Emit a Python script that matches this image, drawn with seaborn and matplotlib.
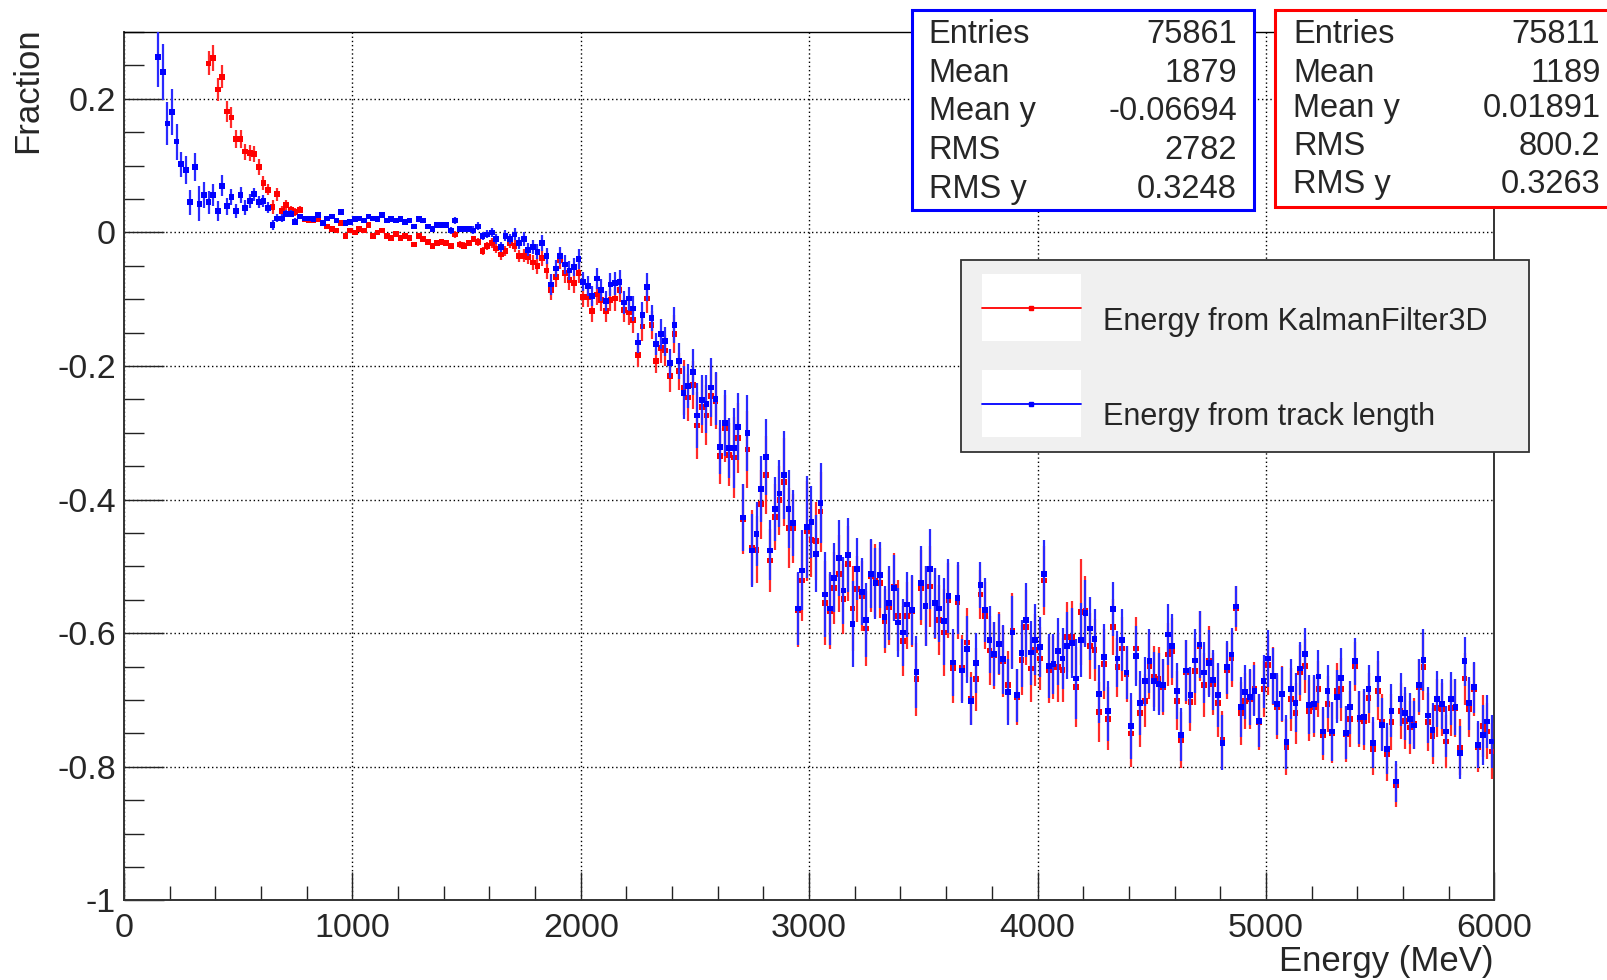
import numpy as np
import pandas as pd
import matplotlib
matplotlib.use("Agg")
import matplotlib.pyplot as plt
import seaborn as sns
from matplotlib.patches import Rectangle
from matplotlib.lines import Line2D

sns.set_style("white")
plt.rcParams["font.family"] = ["Liberation Sans", "DejaVu Sans"]
plt.rcParams["axes.unicode_minus"] = False

# ---------------- data ----------------
bin_width = 20
blue_first_center = 150   # MeV
red_first_center = 370    # MeV

blue_y = [
    0.263, 0.240, 0.163,
    0.180, 0.136, 0.102, 0.093, 0.045, 0.098, 0.043, 0.056, 0.045, 0.056,
    0.032, 0.070, 0.039, 0.053, 0.032, 0.056, 0.037, 0.047, 0.057, 0.045,
    0.047, 0.037, 0.011, 0.021, 0.021, 0.028, 0.028, 0.016, 0.024, 0.021,
    0.021, 0.020, 0.026, 0.014, 0.021, 0.024, 0.018, 0.030, 0.014, 0.016,
    0.020, 0.021, 0.018, 0.024, 0.021, 0.020, 0.026, 0.018, 0.020, 0.018,
    0.020, 0.016, 0.018, 0.009, 0.020, 0.018, 0.009, 0.005, 0.011, 0.011,
    0.011, 0.003, 0.018, 0.005, 0.005, 0.005, 0.003, 0.009, -0.005, -0.003,
    0.000, -0.010, -0.022, -0.005, -0.010, -0.003, -0.016, -0.010, -0.026, -0.022,
    -0.029, -0.016, -0.035, -0.078, -0.054, -0.035, -0.048, -0.057, -0.052, -0.040,
    -0.074, -0.080, -0.095, -0.069, -0.086, -0.103, -0.078, -0.076, -0.074, -0.105,
    -0.099, -0.114, -0.165, -0.124, -0.082, -0.128, -0.167, -0.152, -0.163, -0.196,
    -0.139, -0.192, -0.240, -0.230, -0.209, -0.274, -0.251, -0.257, -0.232, -0.249,
    -0.321, -0.285, -0.323, -0.323, -0.291, -0.427, -0.300, -0.476, -0.452, -0.384,
    -0.336, -0.476, -0.414, -0.391, -0.363, -0.414, -0.435, -0.563, -0.506, -0.441,
    -0.433, -0.481, -0.405, -0.542, -0.563, -0.517, -0.487, -0.536, -0.483, -0.586,
    -0.504, -0.538, -0.580, -0.511, -0.525, -0.513, -0.576, -0.555, -0.532, -0.584,
    -0.599, -0.557, -0.565, -0.658, -0.525, -0.559, -0.504, -0.555, -0.563, -0.582,
    -0.544, -0.644, -0.547, -0.656, -0.624, -0.702, -0.645, -0.528, -0.565, -0.610,
    -0.631, -0.616, -0.639, -0.688, -0.599, -0.693, -0.630, -0.580, -0.629, -0.610,
    -0.621, -0.511, -0.649, -0.646, -0.627, -0.638, -0.619, -0.615, -0.668, -0.610,
    -0.570, -0.593, -0.609, -0.691, -0.636, -0.716, -0.564, -0.638, -0.610, -0.659,
    -0.739, -0.634, -0.705, -0.672, -0.642, -0.672, -0.676, -0.678, -0.602, -0.619,
    -0.687, -0.752, -0.656, -0.693, -0.641, -0.617, -0.659, -0.645, -0.670, -0.693,
    -0.764, -0.651, -0.632, -0.560, -0.711, -0.688, -0.695, -0.686, -0.731, -0.672,
    -0.638, -0.664, -0.706, -0.691, -0.763, -0.683, -0.704, -0.653, -0.631, -0.707,
    -0.706, -0.665, -0.747, -0.687, -0.747, -0.695, -0.667, -0.749, -0.711, -0.642,
    -0.726, -0.725, -0.684, -0.764, -0.669, -0.737, -0.773, -0.716, -0.822, -0.699,
    -0.720, -0.728, -0.738, -0.678, -0.640, -0.723, -0.745, -0.699, -0.706, -0.747,
    -0.698, -0.710, -0.779, -0.642, -0.705, -0.681, -0.767, -0.752, -0.732, -0.762,
]

blue_err = [
    0.046, 0.042, 0.032,
    0.034, 0.027, 0.019, 0.021, 0.019, 0.021, 0.026, 0.019, 0.017, 0.017,
    0.015, 0.016, 0.013, 0.012, 0.011, 0.012, 0.011, 0.010, 0.010, 0.009,
    0.009, 0.008, 0.007, 0.006, 0.006, 0.005, 0.005, 0.005, 0.004, 0.004,
    0.004, 0.004, 0.003, 0.004, 0.003, 0.003, 0.004, 0.003, 0.003, 0.003,
    0.003, 0.003, 0.003, 0.003, 0.003, 0.003, 0.003, 0.003, 0.003, 0.003,
    0.003, 0.003, 0.004, 0.003, 0.003, 0.004, 0.004, 0.004, 0.004, 0.004,
    0.004, 0.005, 0.005, 0.005, 0.005, 0.005, 0.006, 0.006, 0.006, 0.006,
    0.007, 0.007, 0.008, 0.008, 0.008, 0.009, 0.009, 0.010, 0.010, 0.011,
    0.011, 0.012, 0.012, 0.015, 0.013, 0.013, 0.014, 0.014, 0.014, 0.015,
    0.014, 0.015, 0.015, 0.016, 0.016, 0.015, 0.017, 0.017, 0.018, 0.017,
    0.018, 0.019, 0.015, 0.020, 0.021, 0.020, 0.017, 0.022, 0.022, 0.022,
    0.027, 0.027, 0.040, 0.033, 0.035, 0.049, 0.038, 0.044, 0.044, 0.040,
    0.040, 0.049, 0.045, 0.060, 0.050, 0.050, 0.057, 0.055, 0.048, 0.050,
    0.057, 0.045, 0.048, 0.050, 0.066, 0.058, 0.050, 0.054, 0.060, 0.076,
    0.054, 0.058, 0.060, 0.063, 0.055, 0.052, 0.057, 0.050, 0.055, 0.064,
    0.047, 0.050, 0.055, 0.052, 0.053, 0.050, 0.046, 0.055, 0.049, 0.052,
    0.050, 0.048, 0.052, 0.054, 0.055, 0.060, 0.060, 0.052, 0.050, 0.065,
    0.055, 0.050, 0.054, 0.048, 0.050, 0.036, 0.045, 0.034, 0.048, 0.050,
    0.048, 0.045, 0.052, 0.050, 0.055, 0.040, 0.050, 0.055, 0.048, 0.053,
    0.045, 0.050, 0.048, 0.045, 0.050, 0.046, 0.050, 0.052, 0.060, 0.055,
    0.050, 0.047, 0.045, 0.043, 0.050, 0.045, 0.040, 0.042, 0.046, 0.040,
    0.049, 0.045, 0.048, 0.037, 0.048, 0.044, 0.046, 0.040, 0.045, 0.048,
    0.042, 0.040, 0.046, 0.042, 0.048, 0.050, 0.046, 0.050, 0.045, 0.048,
    0.041, 0.040, 0.040, 0.031, 0.045, 0.040, 0.042, 0.038, 0.040, 0.040,
    0.043, 0.042, 0.046, 0.040, 0.040, 0.045, 0.044, 0.040, 0.039, 0.044,
    0.043, 0.040, 0.036, 0.040, 0.044, 0.040, 0.045, 0.040, 0.040, 0.035,
    0.040, 0.042, 0.036, 0.038, 0.042, 0.040, 0.038, 0.040, 0.030, 0.040,
    0.040, 0.038, 0.036, 0.040, 0.047, 0.042, 0.040, 0.042, 0.038, 0.038,
    0.040, 0.042, 0.040, 0.037, 0.040, 0.038, 0.035, 0.045, 0.040, 0.040,
]

red_y = [
    0.253, 0.261,
    0.214, 0.233, 0.181, 0.172, 0.140, 0.140, 0.121, 0.119, 0.117, 0.098,
    0.074, 0.064, 0.038, 0.057, 0.032, 0.041, 0.034, 0.030, 0.034, 0.020,
    0.018, 0.018, 0.020, 0.014, 0.009, 0.005, 0.003, 0.014, -0.005, 0.003,
    0.000, 0.005, 0.003, 0.011, -0.005, 0.000, 0.003, -0.005, -0.008, -0.002,
    -0.008, -0.005, -0.008, -0.018, -0.005, -0.010, -0.014, -0.020, -0.016, -0.014,
    -0.016, -0.020, -0.003, -0.018, -0.020, -0.016, -0.010, -0.014, -0.028, -0.020,
    -0.016, -0.024, -0.033, -0.028, -0.016, -0.020, -0.035, -0.035, -0.037, -0.045,
    -0.050, -0.038, -0.057, -0.086, -0.067, -0.042, -0.061, -0.071, -0.076, -0.061,
    -0.097, -0.097, -0.118, -0.093, -0.101, -0.118, -0.101, -0.099, -0.086, -0.116,
    -0.120, -0.131, -0.184, -0.141, -0.099, -0.139, -0.192, -0.173, -0.177, -0.215,
    -0.152, -0.208, -0.232, -0.247, -0.228, -0.289, -0.261, -0.274, -0.245, -0.253,
    -0.335, -0.293, -0.333, -0.337, -0.308, -0.429, -0.325, -0.472, -0.475, -0.407,
    -0.363, -0.491, -0.426, -0.401, -0.374, -0.443, -0.443, -0.565, -0.521, -0.447,
    -0.460, -0.462, -0.418, -0.555, -0.567, -0.532, -0.511, -0.549, -0.496, -0.563,
    -0.534, -0.544, -0.593, -0.515, -0.521, -0.525, -0.582, -0.561, -0.530, -0.574,
    -0.612, -0.574, -0.567, -0.669, -0.532, -0.559, -0.530, -0.555, -0.580, -0.599,
    -0.551, -0.652, -0.553, -0.652, -0.614, -0.698, -0.669, -0.542, -0.574, -0.626,
    -0.633, -0.616, -0.642, -0.678, -0.596, -0.695, -0.640, -0.591, -0.653, -0.625,
    -0.638, -0.521, -0.655, -0.651, -0.651, -0.655, -0.606, -0.606, -0.680, -0.568,
    -0.566, -0.619, -0.625, -0.718, -0.646, -0.728, -0.591, -0.651, -0.623, -0.661,
    -0.750, -0.623, -0.720, -0.701, -0.649, -0.665, -0.668, -0.680, -0.632, -0.627,
    -0.701, -0.760, -0.658, -0.703, -0.657, -0.619, -0.678, -0.641, -0.676, -0.705,
    -0.760, -0.656, -0.638, -0.563, -0.720, -0.701, -0.699, -0.683, -0.733, -0.683,
    -0.648, -0.664, -0.710, -0.691, -0.771, -0.699, -0.720, -0.659, -0.649, -0.716,
    -0.710, -0.683, -0.752, -0.706, -0.749, -0.686, -0.684, -0.751, -0.728, -0.650,
    -0.728, -0.731, -0.697, -0.773, -0.686, -0.733, -0.781, -0.733, -0.828, -0.716,
    -0.731, -0.741, -0.735, -0.680, -0.651, -0.733, -0.754, -0.712, -0.714, -0.762,
    -0.712, -0.712, -0.771, -0.668, -0.714, -0.684, -0.771, -0.739, -0.747, -0.777,
]

red_err = [
    0.018, 0.019,
    0.017, 0.017, 0.015, 0.016, 0.014, 0.014, 0.012, 0.012, 0.012, 0.012,
    0.010, 0.008, 0.010, 0.010, 0.007, 0.007, 0.006, 0.006, 0.005, 0.005,
    0.004, 0.004, 0.004, 0.004, 0.003, 0.003, 0.003, 0.003, 0.003, 0.003,
    0.003, 0.003, 0.003, 0.003, 0.003, 0.003, 0.003, 0.003, 0.003, 0.003,
    0.003, 0.003, 0.003, 0.004, 0.003, 0.004, 0.004, 0.004, 0.004, 0.004,
    0.004, 0.004, 0.005, 0.005, 0.005, 0.005, 0.005, 0.006, 0.006, 0.006,
    0.007, 0.007, 0.008, 0.008, 0.008, 0.009, 0.009, 0.010, 0.010, 0.011,
    0.012, 0.012, 0.013, 0.015, 0.014, 0.013, 0.014, 0.015, 0.015, 0.015,
    0.015, 0.015, 0.016, 0.016, 0.017, 0.016, 0.017, 0.018, 0.018, 0.018,
    0.019, 0.020, 0.017, 0.021, 0.022, 0.021, 0.018, 0.023, 0.023, 0.024,
    0.028, 0.028, 0.041, 0.035, 0.036, 0.050, 0.040, 0.045, 0.045, 0.042,
    0.042, 0.050, 0.047, 0.060, 0.052, 0.052, 0.058, 0.056, 0.050, 0.052,
    0.058, 0.047, 0.050, 0.052, 0.066, 0.060, 0.052, 0.055, 0.060, 0.075,
    0.056, 0.058, 0.060, 0.063, 0.056, 0.054, 0.058, 0.052, 0.056, 0.064,
    0.049, 0.052, 0.056, 0.054, 0.054, 0.052, 0.048, 0.056, 0.050, 0.053,
    0.052, 0.050, 0.053, 0.055, 0.056, 0.060, 0.060, 0.053, 0.052, 0.065,
    0.056, 0.052, 0.055, 0.050, 0.052, 0.040, 0.047, 0.036, 0.050, 0.052,
    0.050, 0.047, 0.053, 0.052, 0.056, 0.042, 0.052, 0.056, 0.050, 0.054,
    0.047, 0.052, 0.050, 0.047, 0.052, 0.048, 0.052, 0.054, 0.060, 0.079,
    0.052, 0.049, 0.047, 0.045, 0.052, 0.047, 0.042, 0.044, 0.048, 0.042,
    0.050, 0.047, 0.050, 0.040, 0.050, 0.046, 0.048, 0.042, 0.047, 0.050,
    0.044, 0.042, 0.048, 0.044, 0.050, 0.052, 0.048, 0.052, 0.047, 0.050,
    0.043, 0.042, 0.042, 0.034, 0.047, 0.042, 0.044, 0.040, 0.042, 0.042,
    0.045, 0.044, 0.048, 0.042, 0.042, 0.047, 0.046, 0.042, 0.041, 0.046,
    0.045, 0.042, 0.038, 0.042, 0.046, 0.042, 0.047, 0.042, 0.042, 0.037,
    0.042, 0.044, 0.038, 0.040, 0.044, 0.042, 0.040, 0.042, 0.032, 0.042,
    0.042, 0.040, 0.038, 0.042, 0.049, 0.044, 0.042, 0.044, 0.040, 0.040,
    0.042, 0.044, 0.042, 0.039, 0.042, 0.040, 0.037, 0.047, 0.042, 0.042,
]

x_ticks = [0, 1000, 2000, 3000, 4000, 5000, 6000]
x_tick_labels = ["0", "1000", "2000", "3000", "4000", "5000", "6000"]
y_ticks = [-1.0, -0.8, -0.6, -0.4, -0.2, 0.0, 0.2]
y_tick_labels = ["-1", "-0.8", "-0.6", "-0.4", "-0.2", "0", "0.2"]

series_names = ["Energy from KalmanFilter3D", "Energy from track length"]
stat_labels = ["Entries", "Mean", "Mean y", "RMS", "RMS y"]
blue_stats = ["75861", "1879", "-0.06694", "2782", "0.3248"]
red_stats = ["75811", "1189", "0.01891", "800.2", "0.3263"]

# ---------------- frames ----------------
blue_x = blue_first_center + bin_width * np.arange(len(blue_y))
red_x = red_first_center + bin_width * np.arange(len(red_y))
df_blue = pd.DataFrame({"E": blue_x, "frac": blue_y, "err": blue_err})
df_red = pd.DataFrame({"E": red_x, "frac": red_y, "err": red_err})

W, H = 1608, 980
def fx(px):
    return px / W
def fy(py):
    return 1 - py / H

fig = plt.figure(figsize=(W / 100, H / 100), dpi=100)
fig.patch.set_facecolor("white")
ax_l, ax_r, ax_t, ax_b = 124.1, 1494.2, 32.0, 900.4
ax = fig.add_axes([fx(ax_l), fy(ax_b), (ax_r - ax_l) / W, (ax_b - ax_t) / H])
ax.set_facecolor("white")

RED = "#ff0000"
BLUE = "#0000ff"

# red series first, blue on top
ax.errorbar(df_red["E"], df_red["frac"], yerr=df_red["err"], fmt="none",
            ecolor="#ff2a2a", elinewidth=1.6, capsize=0, zorder=3)
sns.scatterplot(data=df_red, x="E", y="frac", marker="s", s=17, color=RED,
                edgecolor="none", linewidth=0, ax=ax, zorder=4, legend=False)
ax.errorbar(df_blue["E"], df_blue["frac"], yerr=df_blue["err"], fmt="none",
            ecolor="#2a2aff", elinewidth=1.6, capsize=0, zorder=5)
sns.scatterplot(data=df_blue, x="E", y="frac", marker="s", s=17, color=BLUE,
                edgecolor="none", linewidth=0, ax=ax, zorder=6, legend=False)

ax.set_xlim(0, 6000)
ax.set_ylim(-1.0, 0.3)
ax.set_xticks(x_ticks)
ax.set_xticklabels(x_tick_labels)
ax.set_xticks(np.arange(0, 6001, 200), minor=True)
ax.set_yticks(y_ticks)
ax.set_yticklabels(y_tick_labels)
ax.set_yticks(np.arange(-1.0, 0.301, 0.05), minor=True)
ax.set_xlabel("")
ax.set_ylabel("")

ax.tick_params(axis="x", which="major", direction="in", length=20, width=1.0,
               labelsize=24.5, pad=9, color="#222222", bottom=True, top=False)
ax.tick_params(axis="x", which="minor", direction="in", length=10, width=1.0,
               color="#222222", bottom=True, top=False)
ax.tick_params(axis="y", which="major", direction="in", length=29, width=1.0,
               labelsize=24.5, pad=6, color="#222222", left=True, right=False)
ax.tick_params(axis="y", which="minor", direction="in", length=14.5, width=1.0,
               color="#222222", left=True, right=False)

ax.grid(True, which="major", color="black", linestyle=(0, (1, 2)), linewidth=1.0)
ax.grid(False, which="minor")
ax.set_axisbelow(True)
for side, sp in ax.spines.items():
    sp.set_visible(True)
    sp.set_color("#333333")
    sp.set_linewidth(1.4)
ax.spines["top"].set_linewidth(1.0)
ax.spines["top"].set_color("black")

# axis titles
fig.text(fx(28), fy(27), "Fraction", rotation=90, ha="center", va="top", fontsize=25)
fig.text(fx(1494), fy(961), "Energy (MeV)", ha="right", va="center", fontsize=25)

# ---------------- stat boxes ----------------
def stat_box(x0, y0, x1, y1, color, lx, rx, baselines, values):
    rect = Rectangle((fx(x0), fy(y1)), (x1 - x0) / W, (y1 - y0) / H,
                     transform=fig.transFigure, facecolor="white",
                     edgecolor=color, linewidth=2.2, zorder=10)
    fig.add_artist(rect)
    for lab, val, b in zip(stat_labels, values, baselines):
        fig.text(fx(lx), fy(b), lab, ha="left", va="baseline", fontsize=23.5, zorder=11)
        fig.text(fx(rx), fy(b), val, ha="right", va="baseline", fontsize=23.5, zorder=11)

stat_box(911.6, 10.5, 1254.0, 209.5, BLUE, 928.7, 1237.0,
         [42.7, 81.7, 120.0, 159.3, 198.3], blue_stats)
stat_box(1274.6, 10.5, 1610.0, 207.0, RED, 1293.2, 1600.5,
         [42.7, 81.7, 116.7, 155.0, 193.3], red_stats)

# ---------------- legend ----------------
leg = Rectangle((fx(960.7), fy(452.3)), (1529 - 960.7) / W, (452.3 - 260) / H,
                transform=fig.transFigure, facecolor="#f0f0f0",
                edgecolor="#333333", linewidth=1.3, zorder=10)
fig.add_artist(leg)
for (wy0, wy1, ly, tb, col, name) in [
        (274.0, 341.0, 308.3, 330.0, RED, series_names[0]),
        (370.0, 437.3, 404.3, 425.0, BLUE, series_names[1])]:
    fig.add_artist(Rectangle((fx(981.8), fy(wy1)), (1080.6 - 981.8) / W, (wy1 - wy0) / H,
                             transform=fig.transFigure, facecolor="white",
                             edgecolor="none", zorder=11))
    fig.add_artist(Line2D([fx(981.8), fx(1080.6)], [fy(ly), fy(ly)],
                          transform=fig.transFigure, color=col, linewidth=1.3, zorder=12))
    fig.add_artist(Line2D([fx(1031.2)], [fy(ly)], transform=fig.transFigure,
                          marker="s", markersize=3.5, color=col, linestyle="none", zorder=13))
    fig.text(fx(1103.1), fy(tb), name, ha="left", va="baseline", fontsize=22, zorder=12)

fig.savefig("out.png", dpi=100, facecolor="white")
